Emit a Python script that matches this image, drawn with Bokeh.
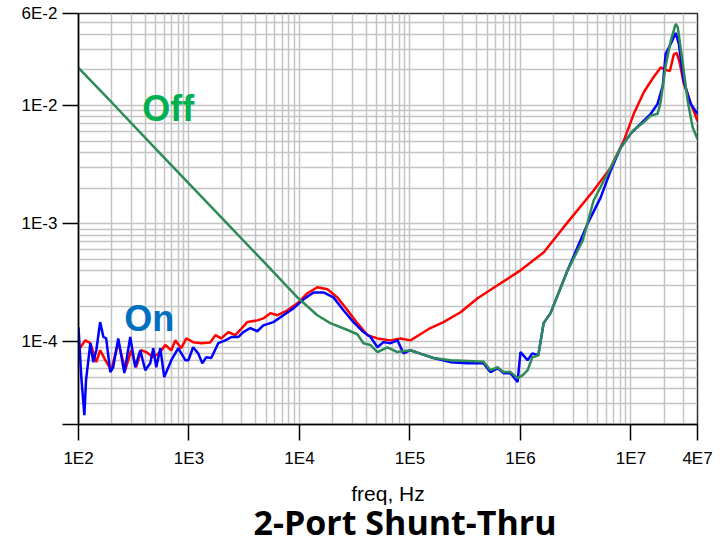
from bokeh.plotting import figure
from bokeh.models import FixedTicker, Title, Label
from bokeh.embed import file_html
from bokeh.resources import INLINE

# ---- data ----
freq_red = [100, 115, 128, 145, 157, 175, 198, 229, 265, 300,
            333, 370, 410, 475, 550, 610, 692, 752, 851, 945,
            1090, 1290, 1560, 1730, 1960, 2270, 2630, 3370, 4150, 4710,
            5450, 6310, 7770, 9570, 11800, 14500, 17900, 22000, 27200, 33400,
            41200, 50800, 66600, 82000, 101000, 124000, 153000, 201000, 287000, 409000,
            620000, 1.0e6, 1.62e6, 2.45e6, 4.59e6, 6.55e6, 8.59e6, 1.06e7, 1.31e7, 1.61e7,
            1.86e7, 2.06e7, 2.25e7, 2.44e7, 2.6e7, 2.76e7, 3.0e7, 3.47e7, 4.0e7]
mag_red = [8.5e-5, 1.03e-4, 9.75e-5, 6.74e-5, 8.5e-5, 7.0e-5, 5.76e-5, 9.9e-5, 5.8e-5, 8.5e-5,
           6.1e-5, 8.5e-5, 8.2e-5, 7.4e-5, 8.2e-5, 9.4e-5, 8.5e-5, 1.03e-4, 8.85e-5, 1.07e-4,
           9.95e-5, 9.75e-5, 9.9e-5, 1.14e-4, 1.07e-4, 1.21e-4, 1.14e-4, 1.47e-4, 1.52e-4, 1.58e-4,
           1.75e-4, 1.68e-4, 1.85e-4, 2.12e-4, 2.58e-4, 2.90e-4, 2.79e-4, 2.38e-4, 1.85e-4, 1.44e-4,
           1.14e-4, 1.07e-4, 1.03e-4, 1.07e-4, 1.03e-4, 1.16e-4, 1.31e-4, 1.47e-4, 1.78e-4, 2.34e-4,
           3.01e-4, 4.03e-4, 5.71e-4, 9.3e-4, 1.91e-3, 2.98e-3, 5.0e-3, 8.5e-3, 1.3e-2, 1.75e-2,
           2.1e-2, 2.0e-2, 1.96e-2, 2.7e-2, 2.78e-2, 2.3e-2, 1.55e-2, 1.05e-2, 7.4e-3]

freq_blue = [100, 106, 113, 117, 128, 136, 145, 157, 168, 178,
             194, 206, 229, 260, 294, 326, 362, 402, 446, 475,
             506, 550, 597, 692, 800, 926, 986, 1090, 1210, 1320,
             1430, 1590, 1840, 2130, 2420, 2800, 3100, 3590, 4150, 4710,
             5800, 7150, 8810, 10900, 13400, 16500, 20300, 25000, 30800, 37900,
             43900, 50800, 57500, 66600, 77000, 87300, 101000, 124000, 163000, 233000,
             332000, 463000, 536000, 620000, 703000, 813000, 941000, 1.0e6, 1.16e6, 1.28e6,
             1.45e6, 1.62e6, 1.87e6, 2.67e6, 4.05e6, 5.31e6, 6.55e6, 8.07e6, 9.93e6, 1.22e7,
             1.51e7, 1.74e7, 1.94e7, 2.06e7, 2.29e7, 2.54e7, 2.71e7, 3.0e7, 3.47e7, 4.0e7]
mag_blue = [1.33e-4, 5.04e-5, 2.40e-5, 4.75e-5, 9.75e-5, 6.74e-5, 8.5e-5, 1.47e-4, 1.10e-4, 1.07e-4,
            5.55e-5, 6.1e-5, 1.07e-4, 5.44e-5, 1.10e-4, 6.1e-5, 8.5e-5, 5.76e-5, 6.6e-5, 8.85e-5,
            6.1e-5, 8.85e-5, 5.04e-5, 7.0e-5, 8.85e-5, 7.0e-5, 7.0e-5, 9.0e-5, 8.0e-5, 6.6e-5,
            7.4e-5, 7.3e-5, 9.75e-5, 1.03e-4, 1.10e-4, 1.10e-4, 1.21e-4, 1.31e-4, 1.23e-4, 1.38e-4,
            1.47e-4, 1.68e-4, 1.92e-4, 2.29e-4, 2.62e-4, 2.62e-4, 2.38e-4, 1.85e-4, 1.47e-4, 1.21e-4,
            1.10e-4, 9.0e-5, 9.95e-5, 9.75e-5, 1.03e-4, 8.0e-5, 8.5e-5, 7.96e-5, 7.3e-5, 6.74e-5,
            6.6e-5, 6.6e-5, 5.55e-5, 6.0e-5, 5.44e-5, 5.44e-5, 4.57e-5, 8.2e-5, 7.0e-5, 8.0e-5,
            7.7e-5, 1.44e-4, 1.75e-4, 4.03e-4, 1.0e-3, 1.66e-3, 2.81e-3, 4.40e-3, 5.77e-3, 7.0e-3,
            8.5e-3, 1.03e-2, 1.47e-2, 2.73e-2, 3.32e-2, 4.11e-2, 3.32e-2, 1.61e-2, 1.03e-2, 8.5e-3]

freq_green = [100, 200, 500, 1000, 2000, 5000, 9570, 14500, 19000, 27200,
              33400, 37900, 43900, 50800, 62500, 77000, 101000, 124000, 163000, 233000,
              332000, 463000, 536000, 620000, 703000, 813000, 941000, 1.05e6, 1.16e6, 1.28e6,
              1.45e6, 1.62e6, 1.87e6, 2.67e6, 3.66e6, 4.59e6, 6.55e6, 8.07e6, 1.04e7, 1.28e7,
              1.51e7, 1.74e7, 1.85e7, 2.06e7, 2.29e7, 2.54e7, 2.65e7, 2.94e7, 3.26e7, 3.62e7,
              4.0e7]
mag_green = [2.08e-2, 1.06e-2, 4.3e-3, 2.18e-3, 1.11e-3, 4.52e-4, 2.38e-4, 1.68e-4, 1.44e-4, 1.26e-4,
             1.16e-4, 9.75e-5, 9.4e-5, 8.2e-5, 9.0e-5, 8.2e-5, 8.5e-5, 7.96e-5, 7.3e-5, 7.0e-5,
             6.9e-5, 6.8e-5, 5.76e-5, 6.1e-5, 5.55e-5, 5.55e-5, 4.94e-5, 5.24e-5, 5.76e-5, 7.4e-5,
             7.7e-5, 1.44e-4, 1.75e-4, 4.03e-4, 7.2e-4, 1.57e-3, 2.98e-3, 4.40e-3, 6.1e-3, 7.1e-3,
             8.2e-3, 8.5e-3, 1.05e-2, 2.16e-2, 3.52e-2, 4.9e-2, 4.6e-2, 2.29e-2, 1.09e-2, 6.5e-3,
             5.2e-3]

x_ticks = [1e2, 1e3, 1e4, 1e5, 1e6, 1e7, 4e7]
x_tick_labels = ["1E2", "1E3", "1E4", "1E5", "1E6", "1E7", "4E7"]
y_ticks = [2e-5, 1e-4, 1e-3, 1e-2, 6e-2]
y_tick_labels = ["", "1E-4", "1E-3", "1E-2", "6E-2"]

x_minor = [m * 10 ** e for e in range(2, 8) for m in range(2, 10) if m * 10 ** e < 4e7]
y_minor = [m * 10.0 ** e for e in range(-5, -1) for m in range(2, 10) if 2e-5 < m * 10.0 ** e < 6e-2]

FONT = "Liberation Sans"

p = figure(width=722, height=546, x_axis_type="log", y_axis_type="log",
           x_range=(1e2, 4e7), y_range=(2e-5, 6e-2),
           output_backend="svg", toolbar_location=None,
           min_border_left=78, min_border_right=25, min_border_top=13, min_border_bottom=122)
p.background_fill_color = "white"
p.border_fill_color = "white"
p.outline_line_color = "#333333"
p.outline_line_width = 1.5

p.xaxis.ticker = FixedTicker(ticks=x_ticks, minor_ticks=x_minor)
p.yaxis.ticker = FixedTicker(ticks=y_ticks, minor_ticks=y_minor)
p.xaxis.major_label_overrides = {t: l for t, l in zip(x_ticks, x_tick_labels)}
p.yaxis.major_label_overrides = {t: l for t, l in zip(y_ticks, y_tick_labels)}

for ax in (p.xaxis, p.yaxis):
    ax.axis_line_color = "black"
    ax.axis_line_width = 1.5
    ax.major_tick_line_color = "black"
    ax.major_tick_line_width = 1.5
    ax.major_tick_out = 16
    ax.major_tick_in = 0
    ax.minor_tick_out = 0
    ax.minor_tick_in = 0
    ax.major_label_text_font = FONT
    ax.major_label_text_font_size = "17px"
    ax.major_label_text_color = "black"

p.yaxis.major_label_standoff = 5
p.xaxis.major_label_standoff = 8

p.xaxis.axis_label = "freq, Hz"
p.xaxis.axis_label_text_font = FONT
p.xaxis.axis_label_text_font_size = "21px"
p.xaxis.axis_label_text_font_style = "normal"
p.xaxis.axis_label_text_color = "black"
p.xaxis.axis_label_standoff = 11

for g in (p.xgrid, p.ygrid):
    g.grid_line_color = "#c4c4c4"
    g.grid_line_width = 1.5
    g.minor_grid_line_color = "#c4c4c4"
    g.minor_grid_line_width = 1.5

p.line(freq_red, mag_red, line_color="#ff0000", line_width=2.5)
p.line(freq_blue, mag_blue, line_color="#0000ff", line_width=2.5)
p.line(freq_green, mag_green, line_color="#2e8b57", line_width=2.5)

p.add_layout(Label(x=378, y=9.38e-3, text="Off", text_font=FONT, text_font_style="bold",
                   text_font_size="36px", text_color="#00b050", text_baseline="alphabetic"))
p.add_layout(Label(x=259, y=1.59e-4, text="On", text_font=FONT, text_font_style="bold",
                   text_font_size="36px", text_color="#0070c0", text_baseline="alphabetic"))

title = Title(text="2-Port Shunt-Thru", align="left", offset=175, standoff=-21,
              text_font="Open Sans", text_font_style="bold", text_font_size="34px",
              text_color="black")
p.add_layout(title, "below")

open("out.html", "w").write(file_html(p, INLINE))
